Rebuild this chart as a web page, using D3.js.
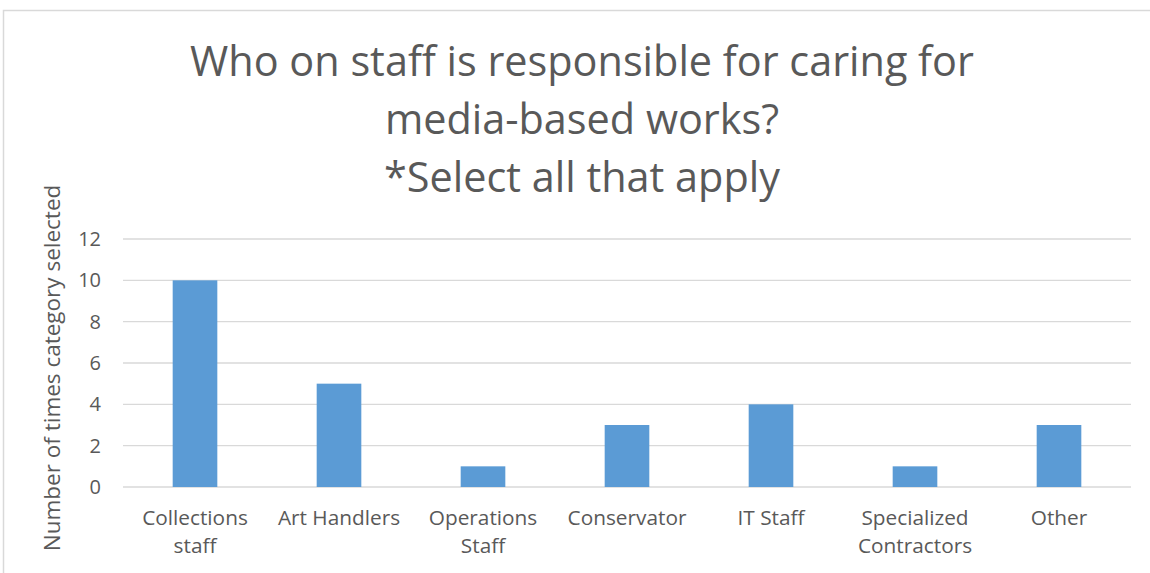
<!DOCTYPE html>
<html>
<head>
<meta charset="utf-8">
<script src="https://cdn.jsdelivr.net/npm/d3@7"></script>
<style>
  body { margin: 0; background: #fff; }
  svg text { font-family: "Open Sans", sans-serif; fill: #595959; }
</style>
</head>
<body>
<div id="chart"></div>
<script>
const categories = [
  ["Collections", "staff"],
  ["Art Handlers"],
  ["Operations", "Staff"],
  ["Conservator"],
  ["IT Staff"],
  ["Specialized", "Contractors"],
  ["Other"],
];
const counts = [10, 5, 1, 3, 4, 1, 3];
const yTicks = [0, 2, 4, 6, 8, 10, 12];
const titleLines = [
  "Who on staff is responsible for caring for",
  "media-based works?",
  "*Select all that apply",
];

const width = 1150;
const height = 573;
const margin = { top: 239, right: 19, bottom: 86, left: 123 };

const svg = d3
  .select("#chart")
  .append("svg")
  .attr("width", width)
  .attr("height", height);

// chart frame, runs off the right and bottom edges
svg
  .append("rect")
  .attr("x", 3.5)
  .attr("y", 10.5)
  .attr("width", width + 20)
  .attr("height", height + 20)
  .attr("fill", "none")
  .attr("stroke", "#d9d9d9")
  .attr("stroke-width", 1.5);

const keys = categories.map((c) => c.join(" "));

const x = d3
  .scaleBand()
  .domain(keys)
  .range([margin.left, width - margin.right])
  .paddingInner(0.69)
  .paddingOuter(0.345);

const y = d3
  .scaleLinear()
  .domain([0, 12])
  .range([height - margin.bottom, margin.top]);

// gridlines
svg
  .append("g")
  .selectAll("line")
  .data(yTicks)
  .join("line")
  .attr("x1", margin.left)
  .attr("x2", width - margin.right)
  .attr("y1", (d) => y(d))
  .attr("y2", (d) => y(d))
  .attr("stroke", "#d9d9d9")
  .attr("stroke-width", 1.3);

// bars
svg
  .append("g")
  .selectAll("rect")
  .data(counts)
  .join("rect")
  .attr("x", (d, i) => x(keys[i]))
  .attr("y", (d) => y(d))
  .attr("width", x.bandwidth())
  .attr("height", (d) => y(0) - y(d))
  .attr("fill", "#5b9bd5");

// y axis tick labels
const yAxis = svg
  .append("g")
  .attr("transform", `translate(${margin.left - 22},0)`)
  .call(d3.axisLeft(y).tickValues(yTicks).tickSize(0).tickPadding(0));
yAxis.select(".domain").remove();
yAxis
  .selectAll("text")
  .style("font-size", "20px")
  .style("font-family", "'Open Sans', sans-serif")
  .attr("fill", "#595959");

// x axis labels
const xLabels = svg
  .append("g")
  .selectAll("text")
  .data(categories)
  .join("text")
  .attr("text-anchor", "middle")
  .attr("x", (d, i) => x(keys[i]) + x.bandwidth() / 2)
  .attr("y", 525)
  .style("font-size", "20.8px");
xLabels
  .selectAll("tspan")
  .data((d) => d)
  .join("tspan")
  .attr("x", function () {
    return this.parentNode.getAttribute("x");
  })
  .attr("dy", (d, i) => (i === 0 ? 0 : 28))
  .text((d) => d);

// y axis title
svg
  .append("text")
  .attr("transform", `translate(60,${368}) rotate(-90)`)
  .attr("text-anchor", "middle")
  .style("font-size", "22.5px")
  .text("Number of times category selected");

// chart title
svg
  .append("g")
  .selectAll("text")
  .data(titleLines)
  .join("text")
  .attr("text-anchor", "middle")
  .attr("x", 582)
  .attr("y", (d, i) => 76 + i * 58)
  .style("font-size", "41.4px")
  .text((d) => d);
</script>
</body>
</html>
